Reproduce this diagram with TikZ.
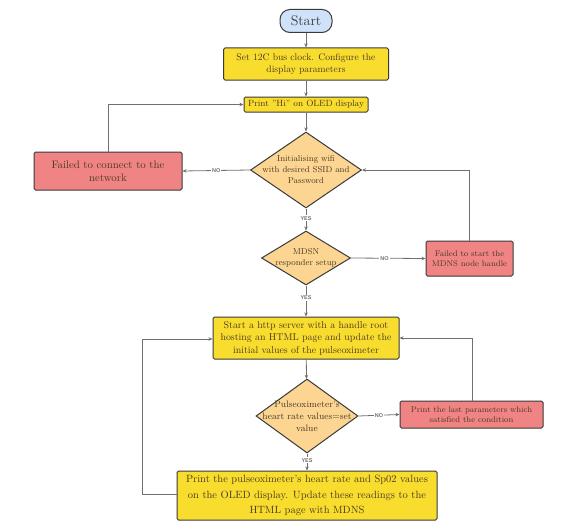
\documentclass[tikz,border=0pt]{standalone}
\usepackage{fontspec}
\setsansfont{Liberation Sans}
\usetikzlibrary{shapes.geometric,arrows.meta}
\definecolor{boxyellow}{HTML}{F8DC2E}
\definecolor{boxpink}{HTML}{F08484}
\definecolor{diafill}{HTML}{FCD592}
\definecolor{startfill}{HTML}{CFE2FA}
\definecolor{edgedark}{HTML}{3A3A3A}
\definecolor{txt}{HTML}{4A3A22}
\definecolor{linegray}{HTML}{707070}
\tikzset{
  base/.style={draw=edgedark, line width=1pt, text=txt, align=center, inner sep=1pt},
  ybox/.style={base, fill=boxyellow, rounded corners=1.5pt},
  pbox/.style={base, fill=boxpink, rounded corners=1.5pt},
  dia/.style={base, fill=diafill, diamond, inner sep=0pt},
  dtext/.style={text=txt, align=center, inner sep=0pt},
  pill/.style={base, fill=startfill, text=edgedark, rounded corners=10pt, font=\fontsize{14}{16}\selectfont},
  conn/.style={draw=linegray, line width=0.8pt, -{Stealth[length=4pt,width=3.5pt]}},
  lab/.style={fill=white, inner sep=1pt, text=linegray, font=\sffamily\bfseries\fontsize{5.5}{6}\selectfont},
  fs/.style={font=\fontsize{#1}{#1*1.25}\selectfont}
}
\begin{document}
\begin{tikzpicture}[x=1pt,y=-1pt]
\useasboundingbox (0,0) rectangle (570,527);
\node[pill, minimum width=52pt, minimum height=23pt] (start) at (306,21) {Start};
\node[ybox, minimum width=165pt, minimum height=32pt, font=\fontsize{9.6}{12}\selectfont] (i2c) at (306,64) {Set 12C bus clock. Configure the\\display parameters};
\node[ybox, minimum width=124pt, minimum height=15pt, font=\fontsize{9}{11}\selectfont] (hi) at (306,104.5) {Print "Hi" on OLED display};
\node[dia, minimum width=111pt, minimum height=76pt] (wifi) at (306,170) {};
\node[dtext, font=\fontsize{8.6}{11}\selectfont] at (wifi) {Initialising wifi\\with desired SSID and\\Password};
\node[pbox, minimum width=148pt, minimum height=38pt, font=\fontsize{10.8}{13}\selectfont] (fail1) at (108,171) {Failed to connect to the\\network};
\node[dia, minimum width=89pt, minimum height=54pt] (mdsn) at (306,258) {};
\node[dtext, font=\fontsize{8.6}{11}\selectfont] at (mdsn) {MDSN\\responder setup};
\node[pbox, minimum width=87pt, minimum height=35pt, font=\fontsize{8.2}{10.5}\selectfont] (fail2) at (469.5,258.5) {Failed to start the\\MDNS node handle};
\node[ybox, minimum width=186pt, minimum height=42pt, font=\fontsize{9.9}{12.5}\selectfont] (server) at (306,338) {Start a http server with a handle root\\hosting an HTML page and update the\\initial values of the pulseoximeter};
\node[dia, minimum width=102pt, minimum height=74pt] (pulse) at (307,416) {};
\node[dtext, font=\fontsize{9.3}{12}\selectfont] at (pulse) {Pulseoximeter's\\heart rate values=set\\value};
\node[pbox, minimum width=143pt, minimum height=27pt, font=\fontsize{8.2}{10.5}\selectfont] (last) at (471.5,414.5) {Print the last parameters which\\satisfied the condition};
\node[ybox, minimum width=260pt, minimum height=49pt, font=\fontsize{10.5}{15.5}\selectfont] (out) at (307,495.5) {Print the pulseoximeter's heart rate and Sp02 values\\on the OLED display. Update these readings to the\\HTML page with MDNS};
\coordinate (c1) at (108,104.5);
\coordinate (c2) at (469.5,170);
\coordinate (c3) at (472,338);
\coordinate (c4) at (142,494);
\coordinate (c5) at (142,339);

\draw[conn] (start) -- (i2c);
\draw[conn] (i2c) -- (hi);
\draw[conn] (hi) -- (wifi);
\draw[conn] (wifi.west) -- node[lab]{NO} (fail1.east);
\draw[conn] (fail1.north) -- (c1) -- (hi.west);
\draw[conn] (wifi.south) -- node[lab, pos=0.45]{YES} (mdsn.north);
\draw[conn] (mdsn.east) -- node[lab, pos=0.45]{NO} (fail2.west);
\draw[conn] (fail2.north) -- (c2) -- (wifi.east);
\draw[conn] (mdsn.south) -- node[lab, pos=0.4]{YES} (server.north);
\draw[conn] (server) -- (pulse);
\draw[conn] (pulse.east) -- node[lab]{NO} (last.west);
\draw[conn] (last.north -| c3) -- (c3) -- (server.east);
\draw[conn] (pulse.south) -- node[lab, pos=0.4]{YES} (out.north);
\draw[conn] (out.west |- c4) -- (c4) -- (c5) -- (server.west |- c5);
\end{tikzpicture}
\end{document}
